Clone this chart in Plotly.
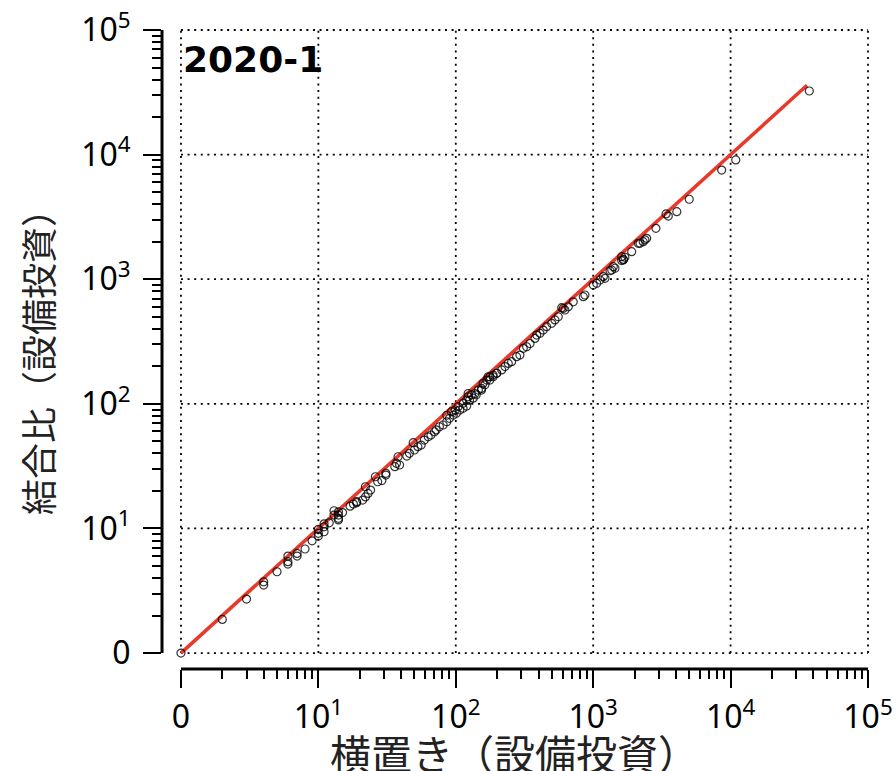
import numpy as np
import plotly.graph_objects as go

# Horizontal placement count vs. combined ratio (equipment investment), 2020-1
x_counts = [
    0, 1, 2, 3, 3, 4, 5, 5, 5, 6, 6, 7, 8, 9, 9, 9, 10, 10, 10, 11, 13, 13, 12, 14,
    16, 17, 18,
    12, 13, 13, 18, 20, 21, 22, 21, 23, 25, 26, 28, 30, 30, 35, 36, 37, 38, 43, 45,
    48, 49, 52, 55, 58, 62, 65, 69, 71, 75, 80, 85, 89, 95, 100, 106, 112, 119, 122,
    125, 133, 140, 153, 162, 171, 176, 186, 197,
    85, 92, 98, 103, 112, 119, 122, 129, 137, 145, 153, 157, 167, 176, 186, 198, 215,
    227, 240, 254, 276, 292, 309, 327, 346, 376, 387, 409, 432, 457, 498, 526, 556,
    589, 604, 622, 658, 715, 846, 870, 1001, 1059, 1121, 1185, 1218, 1364, 1400,
    1611, 1656, 1905, 2128,
    1440, 1325, 1660, 1610, 1700, 2190, 2310, 2380, 2450, 2860, 3390, 3520, 4060,
    5000, 8610, 10900, 37400,
]
y_ratio = [
    0, 0.86, 1.71, 2.73, 2.51, 3.49, 5.0, 4.41, 4.18, 5.3, 5.0, 5.84, 6.96, 7.69,
    8.14, 8.84, 8.41, 9.3, 9.9, 10.1, 11.05, 11.8, 12.87, 12.4, 14.1, 14.7, 15.1,
    11.8, 12.6, 10.7, 15.4, 15.9, 16.9, 18.1, 20.6, 19.3, 25.0, 22.7, 23.2, 25.8,
    26.7, 30.3, 32.3, 36.6, 31.3, 37.1, 39.1, 47.8, 41.6, 44.3, 45.7, 50.2, 53.4,
    55.2, 58.7, 60.7, 64.5, 66.6, 70.8, 75.5, 80.3, 83, 88.2, 91, 95, 120, 106, 110,
    117, 128, 141, 164, 154, 164, 175,
    80, 85.5, 88.2, 93.8, 100, 106, 113, 117, 120, 128, 132, 145, 154, 164, 169, 175,
    186, 198, 210, 217, 238, 245, 278, 286, 304, 334, 355, 367, 390, 415, 442, 470,
    499, 590, 582, 565, 600, 658, 723, 746, 896, 926, 985, 1047, 1016, 1185, 1259,
    1517, 1426, 1662, 1941,
    1224, 1168, 1440, 1410, 1500, 1940, 2000, 2070, 2130, 2560, 3340, 3210, 3480,
    4380, 7520, 9060, 32400,
]

# Reference line y = x
line_x = [0, 36000]
line_y = [0, 36000]

decade_labels = ["0", "10<sup>1</sup>", "10<sup>2</sup>", "10<sup>3</sup>",
                 "10<sup>4</sup>", "10<sup>5</sup>"]
panel_label = "2020-1"
x_title = "横置き（設備投資）"
y_title = "結合比（設備投資）"


def tf(v):
    """log10(1 + v) scale so that zero can sit at the origin."""
    return np.log10(1.0 + np.asarray(v, dtype=float))


n_dec = len(decade_labels) - 1
major = list(range(n_dec + 1))
minor = [d + np.log10(k) for d in range(n_dec) for k in range(2, 10)]

x_range = [-0.138, n_dec]
y_range = [-0.128, n_dec]


def px(v):
    return (v - x_range[0]) / (x_range[1] - x_range[0])


def py(v):
    return (v - y_range[0]) / (y_range[1] - y_range[0])


fig = go.Figure()

fig.add_trace(go.Scatter(
    x=tf(line_x), y=tf(line_y), mode="lines",
    line=dict(color="#e8392a", width=3.6), hoverinfo="skip", showlegend=False,
))
fig.add_trace(go.Scatter(
    x=tf(x_counts), y=tf(y_ratio), mode="markers",
    marker=dict(symbol="circle-open", size=8, color="rgba(0,0,0,0.8)",
                line=dict(width=1.2)),
    showlegend=False,
))

shapes = []
grid_style = dict(color="black", width=1.8, dash="2px,4.6px")
for v in major:
    shapes.append(dict(type="line", xref="paper", yref="paper",
                       x0=px(v), x1=px(v), y0=py(0), y1=py(n_dec),
                       line=grid_style, layer="below"))
    shapes.append(dict(type="line", xref="paper", yref="paper",
                       x0=px(0), x1=px(n_dec), y0=py(v), y1=py(v),
                       line=grid_style, layer="below"))
# detached axis lines spanning only the data range
shapes.append(dict(type="line", xref="paper", yref="paper",
                   x0=px(0), x1=px(n_dec), y0=0, y1=0,
                   line=dict(color="black", width=3)))
shapes.append(dict(type="line", xref="paper", yref="paper",
                   x0=0, x1=0, y0=py(0), y1=py(n_dec),
                   line=dict(color="black", width=3)))

axis_common = dict(
    tickmode="array", tickvals=major, ticktext=decade_labels,
    ticks="outside", ticklen=18, tickwidth=2.2, tickcolor="black",
    showgrid=False, zeroline=False, showline=False, automargin=False,
    tickfont=dict(family="Noto Sans", size=32, color="black"),
    minor=dict(tickmode="array", tickvals=minor, ticks="outside", ticklen=9,
               tickwidth=2, tickcolor="black", showgrid=False),
)

fig.update_layout(
    width=896, height=771,
    margin=dict(l=162, r=28, t=30, b=102, autoexpand=False),
    paper_bgcolor="white", plot_bgcolor="white",
    xaxis=dict(range=x_range, ticklabelstandoff=2, **axis_common),
    yaxis=dict(range=y_range, ticklabelstandoff=6, **axis_common),
    shapes=shapes,
    annotations=[
        dict(text=f"<b>{panel_label}</b>", x=0, y=4.76, xref="x", yref="y",
             xanchor="left", yanchor="middle", showarrow=False,
             font=dict(family="DejaVu Sans", size=36, color="black")),
        dict(text=x_title, x=px(2.43), y=-0.13, xref="paper", yref="paper",
             xanchor="center", yanchor="middle", showarrow=False,
             font=dict(family="Noto Sans CJK JP", size=41, color="#222222")),
        dict(text=y_title, x=-0.177, y=0.4945, xref="paper", yref="paper",
             xanchor="center", yanchor="middle", showarrow=False, textangle=-90,
             font=dict(family="Noto Sans CJK JP", size=36, color="#222222")),
    ],
)

fig.write_html("out.html")
